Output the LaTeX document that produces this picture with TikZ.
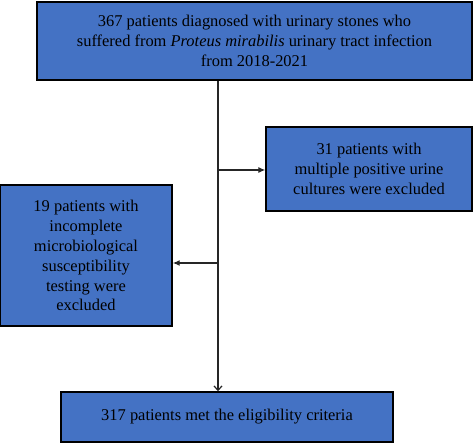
\documentclass[tikz,border=0pt]{standalone}
\usepackage{fontspec}
\setmainfont{Liberation Serif}
\usetikzlibrary{arrows.meta, positioning, calc}
\definecolor{boxblue}{HTML}{4472C4}
\tikzset{
    flowbox/.style={draw=black, line width=1.4bp, fill=boxblue, align=center,
        inner sep=0pt, font=\fontsize{16.5}{20}\selectfont},
    trunkline/.style={line width=1.2bp, draw=black!85},
    sidearrow/.style={trunkline, -{Latex[length=7bp,width=6bp]}},
    downarrow/.style={trunkline, -{Straight Barb[length=4.5bp,width=8bp]}}
}
\begin{document}
\begin{tikzpicture}[x=1bp, y=-1bp]
    \useasboundingbox (0,0) rectangle (474,443);
    % boxes
    \node[flowbox, minimum width=435bp, minimum height=78bp] (start) at (254.5,41)
        {367 patients diagnosed with urinary stones who\\
         suffered from \textit{Proteus mirabilis} urinary tract infection\\
         from 2018-2021};
    \node[flowbox, minimum width=206bp, minimum height=84bp] (excl1) at (369,169)
        {31 patients with\\ multiple positive urine\\ cultures were excluded};
    \node[flowbox, minimum width=172bp, minimum height=141bp] (excl2) at (86,255.5)
        {19 patients with\\ incomplete\\ microbiological\\ susceptibility\\ testing were\\ excluded};
    \node[flowbox, minimum width=332bp, minimum height=50bp] (final) at (227,417)
        {317 patients met the eligibility criteria};
    % trunk and branches
    \coordinate (b1) at (218,170);
    \coordinate (b2) at (218,263);
    \draw[downarrow] (start.south -| b1) -- (final.north -| b1);
    \draw[sidearrow] (b1) -- (excl1.west |- b1);
    \draw[sidearrow] (b2) -- (excl2.east |- b2);
\end{tikzpicture}
\end{document}
